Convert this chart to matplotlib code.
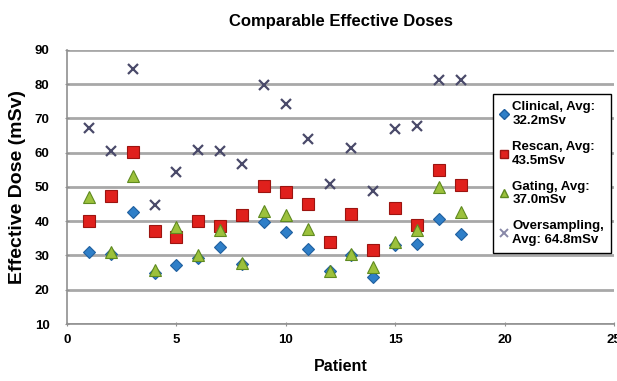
import matplotlib.pyplot as plt
from matplotlib.lines import Line2D

plt.rcParams["font.family"] = ["Liberation Sans", "DejaVu Sans"]
plt.rcParams["font.weight"] = "bold"

patients = list(range(1, 19))
clinical = [30.9, 30.5, 42.6, 24.8, 27.3, 29.3, 32.4, 27.5, 39.7,
            36.8, 31.9, 25.5, 30.0, 23.6, 33.0, 33.4, 40.7, 36.3]
rescan = [40.2, 47.5, 60.1, 37.1, 35.3, 40.2, 38.7, 41.9, 50.4,
          48.6, 45.0, 34.0, 42.1, 31.6, 43.8, 38.9, 55.0, 50.6]
gating = [47.0, 30.9, 53.3, 25.8, 38.2, 30.0, 37.3, 27.7, 43.1,
          41.9, 37.7, 25.6, 30.4, 26.5, 33.8, 37.3, 49.9, 42.6]
oversampling = [67.2, 60.6, 84.5, 44.8, 54.5, 60.8, 60.6, 56.7, 79.8,
                74.2, 64.0, 50.9, 61.4, 48.7, 66.9, 67.9, 81.2, 81.2]
labels = ["Clinical, Avg:\n32.2mSv", "Rescan, Avg:\n43.5mSv",
          "Gating, Avg:\n37.0mSv", "Oversampling,\nAvg: 64.8mSv"]

fig = plt.figure(figsize=(6.17, 3.81), dpi=100)
ax = fig.add_axes([0.1086, 0.1496, 0.8864, 0.7195])

ax.plot(patients, clinical, "D", ms=6, color="#2f7fc8", mec="#1f5f9f", mew=0.8, zorder=3)
ax.plot(patients, rescan, "s", ms=8, color="#e0201c", mec="#9c1410", mew=0.8, zorder=4)
ax.plot(patients, gating, "^", ms=8, color="#9cc13c", mec="#5f8a20", mew=0.8, zorder=5)
ax.plot(patients, oversampling, "x", ms=7, color="#4a4a6a", mew=1.6, zorder=6)

ax.set_xlim(0, 25)
ax.set_ylim(10, 90)
ax.set_xticks(range(0, 26, 5))
ax.set_yticks(range(10, 91, 10))
ax.yaxis.grid(True, color="#a8a8a8", lw=2)
ax.set_axisbelow(True)
for s in ["top", "right"]:
    ax.spines[s].set_visible(False)
for s in ["left", "bottom"]:
    ax.spines[s].set_color("#909090")
    ax.spines[s].set_linewidth(1.2)
ax.tick_params(labelsize=9.5, length=3, color="#909090", direction="inout")
ax.tick_params(axis="x", pad=6)
ax.tick_params(axis="y", pad=11)

ax.set_title("Comparable Effective Doses", fontsize=12, fontweight="bold", pad=17)
ax.set_xlabel("Patient", fontsize=11.5, fontweight="bold", labelpad=9)
ax.set_ylabel("Effective Dose (mSv)", fontsize=14, fontweight="bold", labelpad=6)

handles = [
    Line2D([], [], ls="", marker="D", ms=5, color="#2f7fc8", mec="#1f5f9f"),
    Line2D([], [], ls="", marker="s", ms=6, color="#e0201c", mec="#9c1410"),
    Line2D([], [], ls="", marker="^", ms=6, color="#9cc13c", mec="#5f8a20"),
    Line2D([], [], ls="", marker="x", ms=6, color="#8888a8", mew=1.4),
]
leg = ax.legend(handles, labels, loc="upper left", bbox_to_anchor=(0.779, 0.839),
                borderaxespad=0, fontsize=9.5, handlelength=0.6, handletextpad=0.3,
                borderpad=0.55, labelspacing=1.05, fancybox=False, framealpha=1)
leg.get_frame().set_edgecolor("black")
leg.get_frame().set_linewidth(1.0)

fig.savefig("out.png", dpi=100)
